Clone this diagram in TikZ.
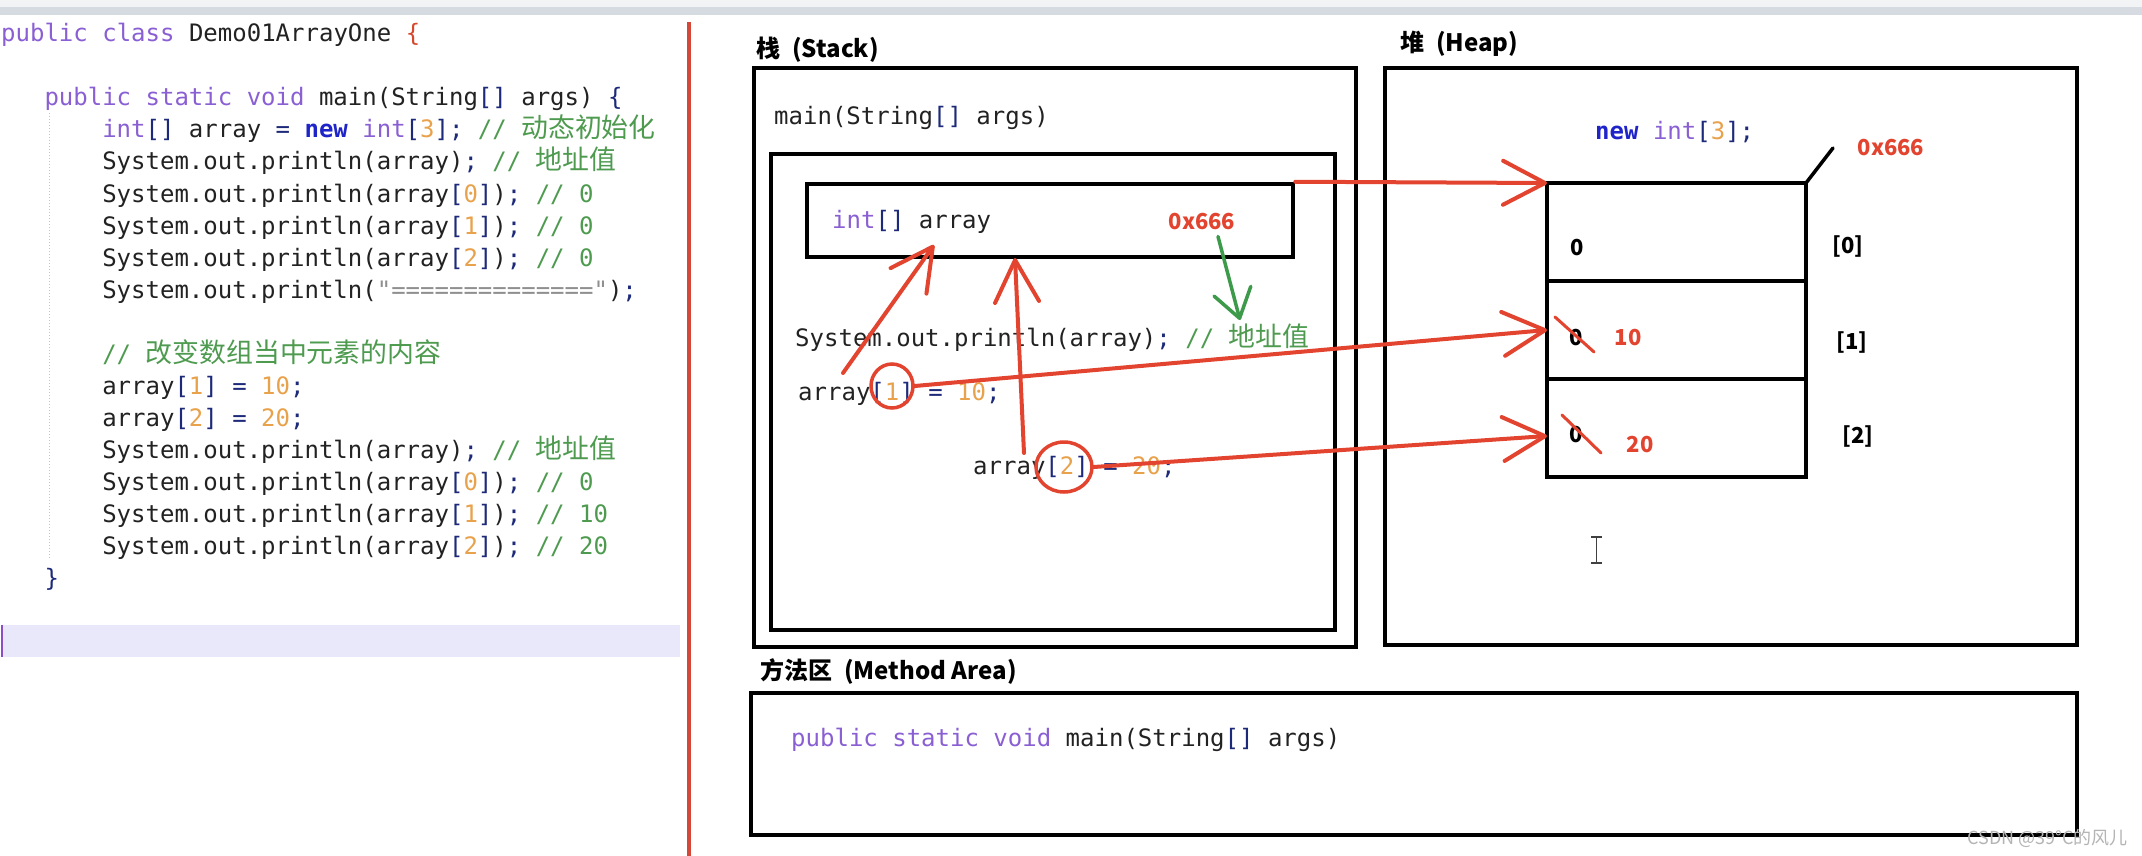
\documentclass[tikz,border=0pt]{standalone}
\usepackage{fontspec}
\usepackage{xcolor}
\usepackage{tikz}
\usetikzlibrary{positioning,arrows.meta,shapes.geometric}
\newfontfamily\codefont{DejaVu Sans Mono}
\newfontfamily\hdfont{Noto Sans CJK SC}
\newfontfamily\cjkc[Scale=1.12]{Noto Sans CJK SC}
\definecolor{kwpurple}{HTML}{8A5FD3}
\definecolor{newblue}{HTML}{1F24C8}
\definecolor{brnavy}{HTML}{1D2A7A}
\definecolor{numorange}{HTML}{E9A24C}
\definecolor{comgreen}{HTML}{4E9B50}
\definecolor{strgray}{HTML}{8F8F8F}
\definecolor{codeblack}{HTML}{222222}
\definecolor{penred}{HTML}{E2442F}
\definecolor{pengreen}{HTML}{3D9A4B}
\definecolor{divred}{HTML}{D4483A}
\definecolor{topbar}{HTML}{D6DBE2}
\definecolor{topstrip}{HTML}{F2F3F4}
\definecolor{hlband}{HTML}{E8E8FA}
\definecolor{caretc}{HTML}{8A4FC8}
\definecolor{guidec}{HTML}{C4C4C4}
\definecolor{wmgray}{HTML}{B4B4B4}
\definecolor{bracered}{HTML}{D6472C}
\newcommand{\ckw}[1]{\textcolor{kwpurple}{#1}}
\newcommand{\cnew}[1]{\textcolor{newblue}{\bfseries #1}}
\newcommand{\cbr}[1]{\textcolor{brnavy}{#1}}
\newcommand{\cnum}[1]{\textcolor{numorange}{#1}}
\newcommand{\ccom}[1]{\textcolor{comgreen}{#1}}
\newcommand{\cstr}[1]{\textcolor{strgray}{#1}}
\newcommand{\czh}[1]{{\cjkc #1}}
\tikzset{
  code/.style={font=\codefont\fontsize{24}{28}\selectfont, text=codeblack, anchor=base west, inner sep=0pt},
  head/.style={font=\hdfont\bfseries\fontsize{24}{28}\selectfont, text=black, anchor=west, inner sep=0pt},
  val/.style={font=\hdfont\bfseries\fontsize{22}{26}\selectfont, text=black, inner sep=0pt},
  frame/.style={draw=black, line width=4.5pt},
  cellbox/.style={draw=black, line width=4.5pt, minimum width=259pt, minimum height=98pt, inner sep=0pt, outer sep=0pt},
  pen/.style={draw=penred, line width=4pt, line cap=round, line join=round},
  penarrow/.style={pen, -{Straight Barb[length=42pt,width=44pt,round]}},
  ring/.style={ellipse, draw=penred, line width=3.5pt, inner sep=0pt},
  strike/.style={draw=penred, line width=3pt, line cap=round},
  greenarrow/.style={draw=pengreen, line width=3.5pt, line cap=round, -{Straight Barb[length=28pt,width=38pt,round]}},
}
\begin{document}
\begin{tikzpicture}[x=1pt,y=-1pt]
  \useasboundingbox (0,0) rectangle (2142,856);
  \fill[white] (0,0) rectangle (2142,856);
  \fill[topstrip] (0,0) rectangle (2142,7);
  \fill[topbar] (0,7) rectangle (2142,15);

  \begin{scope}
    \clip (0,15) rectangle (687,856);
    \fill[hlband] (3,625) rectangle (680,657);
    \draw[caretc, line width=2pt] (2,625) -- (2,657);
    \draw[guidec, line width=1pt, dotted] (49,113) -- (49,560);
    \node[code] (l1) at (1,42) {\ckw{public class} Demo01ArrayOne \textcolor{bracered}{\{}};
    \node[code] (l3) at (44.3,106) {\ckw{public static void} main(String\cbr{[]} args) \cbr{\{}};
    \node[code] (l4) at (102.1,138) {\ckw{int}\cbr{[]} array \cbr{=} \cnew{new} \ckw{int}\cbr{[}\cnum{3}\cbr{]}\cbr{;} \ccom{// \czh{动态初始化}}};
    \node[code] (l5) at (102.1,170) {System.out.println(array)\cbr{;} \ccom{// \czh{地址值}}};
    \node[code] (l6) at (102.1,202) {System.out.println(array\cbr{[}\cnum{0}\cbr{]})\cbr{;} \ccom{// 0}};
    \node[code] (l7) at (102.1,234) {System.out.println(array\cbr{[}\cnum{1}\cbr{]})\cbr{;} \ccom{// 0}};
    \node[code] (l8) at (102.1,266) {System.out.println(array\cbr{[}\cnum{2}\cbr{]})\cbr{;} \ccom{// 0}};
    \node[code] (l9) at (102.1,298) {System.out.println(\cstr{"=============="})\cbr{;}};
    \node[code] (l11) at (102.1,362) {\ccom{// \czh{改变数组当中元素的内容}}};
    \node[code] (l12) at (102.1,394) {array\cbr{[}\cnum{1}\cbr{]} \cbr{=} \cnum{10}\cbr{;}};
    \node[code] (l13) at (102.1,426) {array\cbr{[}\cnum{2}\cbr{]} \cbr{=} \cnum{20}\cbr{;}};
    \node[code] (l14) at (102.1,458) {System.out.println(array)\cbr{;} \ccom{// \czh{地址值}}};
    \node[code] (l15) at (102.1,490) {System.out.println(array\cbr{[}\cnum{0}\cbr{]})\cbr{;} \ccom{// 0}};
    \node[code] (l16) at (102.1,522) {System.out.println(array\cbr{[}\cnum{1}\cbr{]})\cbr{;} \ccom{// 10}};
    \node[code] (l17) at (102.1,554) {System.out.println(array\cbr{[}\cnum{2}\cbr{]})\cbr{;} \ccom{// 20}};
    \node[code] (l18) at (44.3,586) {\cbr{\}}};
  \end{scope}
  \draw[divred, line width=4pt] (689,22) -- (689,856);

  \node[head] (stackhd) at (756,50) {栈\hspace{12pt}(Stack)};
  \draw[frame] (754,68) rectangle (1356,647);
  \node[code] (frame) at (774,125) {main(String\cbr{[]} args)};
  \draw[frame] (771,154) rectangle (1335,630);
  \node[frame, minimum width=486pt, minimum height=73pt, inner sep=0pt] (var) at (1050,220.5) {};
  \node[code] (varname) at (832,228) {\ckw{int}\cbr{[]} array};
  \node[val, text=penred] (addr) at (1202,222) {0x666};
  \node[code] (print) at (795,346) {System.out.println(array)\cbr{;} \ccom{// \czh{地址值}}};
  \node[code] (set1) at (798,400) {array\cbr{[}\cnum{1}\cbr{]} \cbr{=} \cnum{10}\cbr{;}};
  \node[code] (set2) at (973,474) {array\cbr{[}\cnum{2}\cbr{]} \cbr{=} \cnum{20}\cbr{;}};
  \node[ring, minimum width=42pt, minimum height=44pt] (r1) at (892,386) {};
  \node[ring, minimum width=56pt, minimum height=50pt] (r2) at (1064,467) {};

  \node[head] (heaphd) at (1400,44) {堆\hspace{12pt}(Heap)};
  \draw[frame] (1385,68) rectangle (2077,645);
  \node[code] (newarr) at (1595,140) {\cnew{new} \ckw{int}\cbr{[}\cnum{3}\cbr{]}\cbr{;}};
  \node[cellbox] (cell0) at (1676.5,232) {};
  \node[cellbox, below=0pt of cell0] (cell1) {};
  \node[cellbox, below=0pt of cell1] (cell2) {};
  \coordinate (tag) at (1833,148);
  \draw[black, line width=3.5pt, line cap=round] (cell0.north east) -- (tag);
  \node[val, text=penred] (haddr) at (1891,148) {0x666};
  \node[val] (z0) at (1577,248) {0};
  \node[val] (z1) at (1576,338) {0};
  \node[val] (z2) at (1576,435) {0};
  \node[val, text=penred] (n1) at (1628,338) {10};
  \node[val, text=penred] (n2) at (1640,445) {20};
  \draw[strike] (1555,317) -- (1594,352);
  \draw[strike] (1562,415) -- (1601,453);
  \node[val] (i0) at (1848,247) {[0]};
  \node[val] (i1) at (1852,343) {[1]};
  \node[val] (i2) at (1858,437) {[2]};
  \draw[black!75, line width=1.5pt] (1596.5,537) -- (1596.5,563) (1591,537) -- (1602,537) (1591,563) -- (1602,563);

  \node[head] (methodhd) at (760,671) {方法区\hspace{12pt}(Method Area)};
  \draw[frame] (751,693) rectangle (2077,835);
  \node[code] (mainsig) at (791,746) {\ckw{public static void} main(String\cbr{[]} args)};

  \coordinate (t1) at (843,373);
  \coordinate (v1) at (934,245);
  \coordinate (t2) at (1024,453);
  \coordinate (v2) at (1015,258);
  \coordinate (g) at (1240,320);
  \draw[penarrow] (t1) -- (v1);
  \draw[penarrow] (t2) -- (v2);
  \draw[greenarrow] ([xshift=16pt,yshift=-6pt]addr.south) -- (g);
  \draw[penarrow] (var.north east) -- (cell0.north west);
  \draw[penarrow] (r1.east) -- (cell1.west);
  \draw[penarrow] (r2.east) -- ([yshift=-8pt]cell2.west);

  \node[font=\hdfont\fontsize{18}{20}\selectfont, text=wmgray, anchor=east, inner sep=0pt] (wm) at (2128,838) {CSDN @39°C的风儿};
\end{tikzpicture}
\end{document}
